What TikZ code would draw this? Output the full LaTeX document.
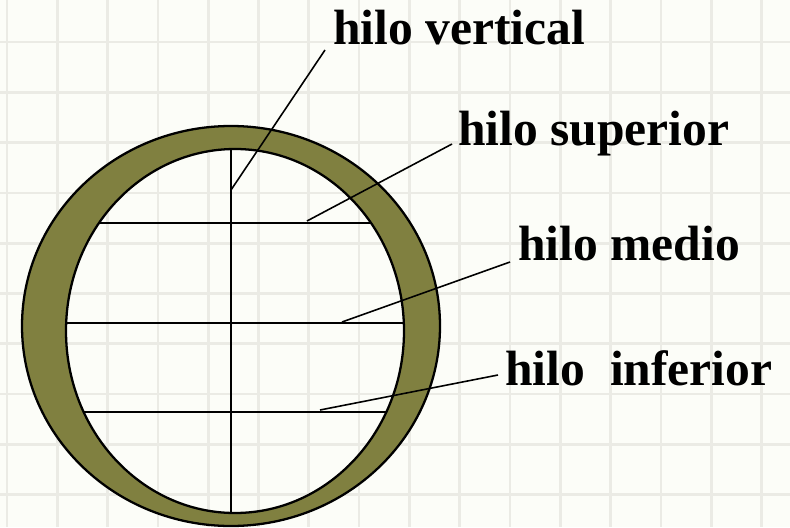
\documentclass[tikz,border=0pt]{standalone}
\usepackage{fontspec}
\setmainfont{Liberation Serif}
\usepackage{xcolor}
\usepackage{tikz}
\usetikzlibrary{positioning}
\definecolor{paper}{HTML}{FCFDF8}
\definecolor{gridgray}{HTML}{EBEBE5}
\definecolor{olive}{HTML}{808040}
\tikzset{
  gridline/.style={draw=gridgray, line width=1.5pt},
  ring/.style={
    fill=olive,
    draw=black,
    even odd rule,
    line width=1.3pt
  },
  hilo/.style={draw=black, line width=1.5pt},
  leader/.style={draw=black, line width=0.9pt},
  label/.style={
    anchor=base west,
    inner sep=0pt,
    font=\bfseries\fontsize{28.2}{34}\selectfont
  }
}
\begin{document}
\begin{tikzpicture}[x=0.02cm, y=-0.02cm]

\useasboundingbox (0,0) rectangle (790,527);
\fill[paper] (0,0) rectangle (790,527);

\foreach \gx in {0,...,15}
  \draw[gridline] (7+50.3*\gx,0) -- (7+50.3*\gx,527);
\foreach \gy in {0,...,9}
  \draw[gridline] (0,42+50.3*\gy) -- (790,42+50.3*\gy);

\path[ring] (231,326) ellipse [x radius=209, y radius=200]
            (235,331) ellipse [x radius=169, y radius=182];

\begin{scope}
  \clip (235,331) ellipse [x radius=169, y radius=182];
  \draw[hilo] (231,100) -- (231,560);
  \draw[hilo] (0,223) -- (500,223);
  \draw[hilo] (0,323) -- (500,323);
  \draw[hilo] (0,412) -- (500,412);
\end{scope}

\coordinate (tipvert) at (231,190);
\coordinate (tipsup) at (307,221);
\coordinate (tipmed) at (342,322);
\coordinate (tipinf) at (320,410);

\node[label] (lblvert) at (333,45) {hilo vertical};
\node[label] (lblsup) at (458,145) {hilo superior};
\node[label] (lblmed) at (518,260) {hilo medio};
\node[label] (lblinf) at (505,385) {hilo\ \ inferior};

\draw[leader] ([shift={(-8,5)}]lblvert.base west) -- (tipvert);
\draw[leader] ([shift={(-6,-1)}]lblsup.base west) -- (tipsup);
\draw[leader] ([shift={(-8,2)}]lblmed.base west) -- (tipmed);
\draw[leader] ([shift={(-7,-10)}]lblinf.base west) -- (tipinf);

\end{tikzpicture}
\end{document}
